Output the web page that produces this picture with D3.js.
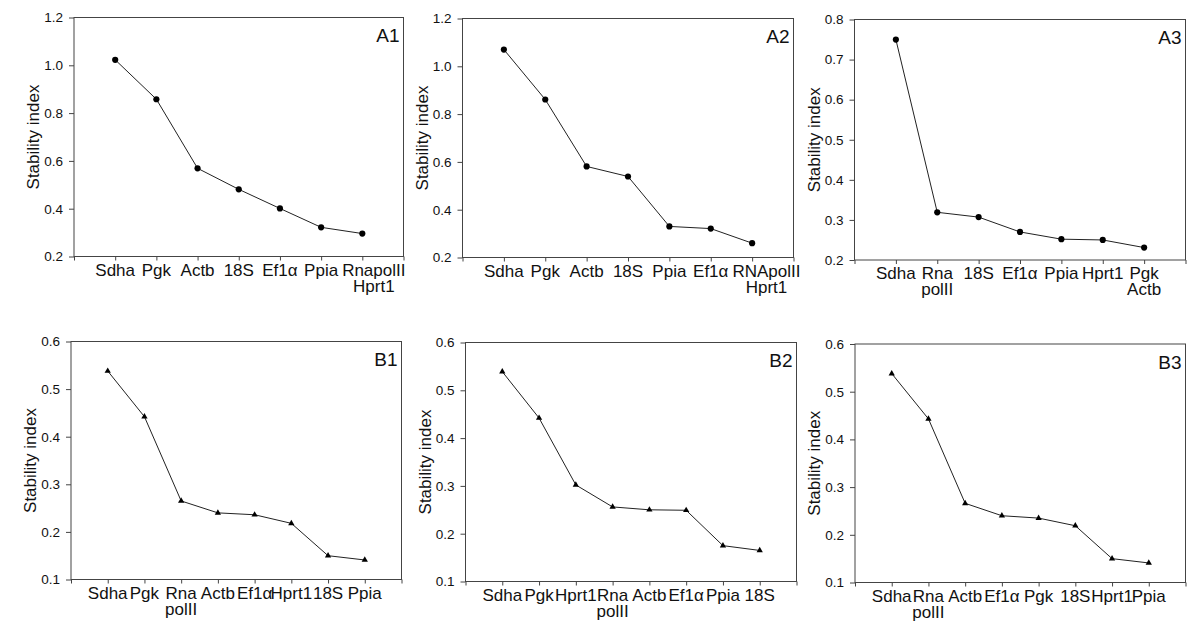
<!DOCTYPE html>
<html lang="en">
<head>
<meta charset="UTF-8">
<title>Stability index</title>
<script src="https://cdn.jsdelivr.net/npm/d3@7/dist/d3.min.js"></script>
<style>
    body { margin: 0; background: #fff; }
    svg { font-family: "Liberation Sans", Arial, sans-serif; }
    .frame { fill: none; stroke: #444; stroke-width: 1; }
    .axis path { display: none; }
    .axis line { stroke: #444; }
    .axis text { fill: #111; font-size: 13.5px; }
    .series { fill: none; stroke: #222; stroke-width: 1; }
    .xlab { fill: #111; font-size: 17px; }
    .ylab { fill: #111; font-size: 17px; }
    .tag { fill: #111; font-size: 19px; }
</style>
</head>
<body>
<svg width="1200" height="626"></svg>
<script>
    // genes in ranked order and their stability index, one pair per panel
    var a1Genes = ["Sdha", "Pgk", "Actb", "18S", "Ef1α", "Ppia", "RnapolII\nHprt1"];
    var a1Values = [1.023, 0.858, 0.569, 0.481, 0.401, 0.322, 0.296];

    var a2Genes = ["Sdha", "Pgk", "Actb", "18S", "Ppia", "Ef1α", "RNApolII\nHprt1"];
    var a2Values = [1.070, 0.861, 0.581, 0.539, 0.330, 0.321, 0.260];

    var a3Genes = ["Sdha", "Rna\npolII", "18S", "Ef1α", "Ppia", "Hprt1", "Pgk\nActb"];
    var a3Values = [0.750, 0.319, 0.307, 0.270, 0.252, 0.250, 0.231];

    var b1Genes = ["Sdha", "Pgk", "Rna\npolII", "Actb", "Ef1α", "Hprt1", "18S", "Ppia"];
    var b1Values = [0.538, 0.442, 0.265, 0.240, 0.236, 0.218, 0.150, 0.141];

    var b2Genes = ["Sdha", "Pgk", "Hprt1", "Rna\npolII", "Actb", "Ef1α", "Ppia", "18S"];
    var b2Values = [0.539, 0.442, 0.302, 0.256, 0.250, 0.249, 0.175, 0.165];

    var b3Genes = ["Sdha", "Rna\npolII", "Actb", "Ef1α", "Pgk", "18S", "Hprt1", "Ppia"];
    var b3Values = [0.538, 0.443, 0.266, 0.240, 0.235, 0.219, 0.150, 0.141];

    // y tick labels
    var yTicksA12 = [0.2, 0.4, 0.6, 0.8, 1.0, 1.2];
    var yTicksA3 = [0.2, 0.3, 0.4, 0.5, 0.6, 0.7, 0.8];
    var yTicksB = [0.1, 0.2, 0.3, 0.4, 0.5, 0.6];

    var panels = [
        {tag: "A1", genes: a1Genes, values: a1Values, ticks: yTicksA12, marker: "circle"},
        {tag: "A2", genes: a2Genes, values: a2Values, ticks: yTicksA12, marker: "circle"},
        {tag: "A3", genes: a3Genes, values: a3Values, ticks: yTicksA3, marker: "circle"},
        {tag: "B1", genes: b1Genes, values: b1Values, ticks: yTicksB, marker: "triangle"},
        {tag: "B2", genes: b2Genes, values: b2Values, ticks: yTicksB, marker: "triangle"},
        {tag: "B3", genes: b3Genes, values: b3Values, ticks: yTicksB, marker: "triangle"}
    ];

    // plot boxes on the page
    var boxes = [
        {left: 74, top: 17.5, right: 403.5, bottom: 256.5},
        {left: 462.5, top: 18.5, right: 793.5, bottom: 257.5},
        {left: 854.5, top: 19.5, right: 1185.5, bottom: 260},
        {left: 71, top: 341.5, right: 401.5, bottom: 579.5},
        {left: 465.5, top: 342.5, right: 796.5, bottom: 581.5},
        {left: 855, top: 344, right: 1185.5, bottom: 582.5}
    ];

    var svg = d3.select("svg");

    panels.forEach(function (p, i) {
        var b = boxes[i];
        var n = p.genes.length;
        var g = svg.append("g");

        var x = d3.scaleLinear().domain([0, n + 1]).range([b.left, b.right]);
        var y = d3.scaleLinear()
            .domain([p.ticks[0], p.ticks[p.ticks.length - 1]])
            .range([b.bottom, b.top]);

        g.append("rect")
            .attr("class", "frame")
            .attr("x", b.left).attr("y", b.top)
            .attr("width", b.right - b.left).attr("height", b.bottom - b.top);

        g.append("g")
            .attr("class", "axis")
            .attr("transform", "translate(0," + b.bottom + ")")
            .call(d3.axisBottom(x).tickValues(d3.range(0, n + 2)).tickSize(4).tickFormat(""));

        g.append("g")
            .attr("class", "axis")
            .attr("transform", "translate(" + b.left + ",0)")
            .call(d3.axisLeft(y).tickValues(p.ticks).tickSize(5).tickPadding(6)
                .tickFormat(d3.format(".1f")));

        // category labels, some on two lines
        var labels = g.selectAll("text.xlab")
            .data(p.genes)
            .enter()
            .append("text")
            .attr("class", "xlab")
            .attr("text-anchor", "middle")
            .attr("y", b.bottom + 19);

        labels.each(function (d, j) {
            var t = d3.select(this);
            d.split("\n").forEach(function (line, k) {
                t.append("tspan")
                    .attr("x", x(j + 1))
                    .attr("dy", k === 0 ? 0 : 16)
                    .text(line);
            });
        });

        // push a label right when it runs into the one before it
        var prevRight = -Infinity;
        labels.each(function (d, j) {
            var w = 0;
            d3.select(this).selectAll("tspan").each(function () {
                w = Math.max(w, this.getComputedTextLength());
            });
            var cx = x(j + 1);
            if (cx - w / 2 < prevRight - 2) {
                cx = prevRight + 4 + w / 2;
                d3.select(this).selectAll("tspan").attr("x", cx);
            }
            prevRight = cx + w / 2;
        });

        g.append("text")
            .attr("class", "ylab")
            .attr("text-anchor", "middle")
            .attr("transform", "translate(" + (b.left - 35) + "," + ((b.top + b.bottom) / 2) + ") rotate(-90)")
            .text("Stability index");

        g.append("text")
            .attr("class", "tag")
            .attr("text-anchor", "end")
            .attr("x", b.right - 4)
            .attr("y", b.top + 24.5)
            .text(p.tag);

        var line = d3.line()
            .x(function (d, j) { return x(j + 1); })
            .y(function (d) { return y(d); });

        g.append("path")
            .attr("class", "series")
            .attr("d", line(p.values));

        var symbol = p.marker === "circle"
            ? d3.symbol().type(d3.symbolCircle).size(30)
            : d3.symbol().type(d3.symbolTriangle).size(17);

        g.selectAll("path.marker")
            .data(p.values)
            .enter()
            .append("path")
            .attr("class", "marker")
            .attr("fill", "#000")
            .attr("transform", function (d, j) {
                return "translate(" + x(j + 1) + "," + y(d) + ")";
            })
            .attr("d", symbol);
    });
</script>
</body>
</html>
